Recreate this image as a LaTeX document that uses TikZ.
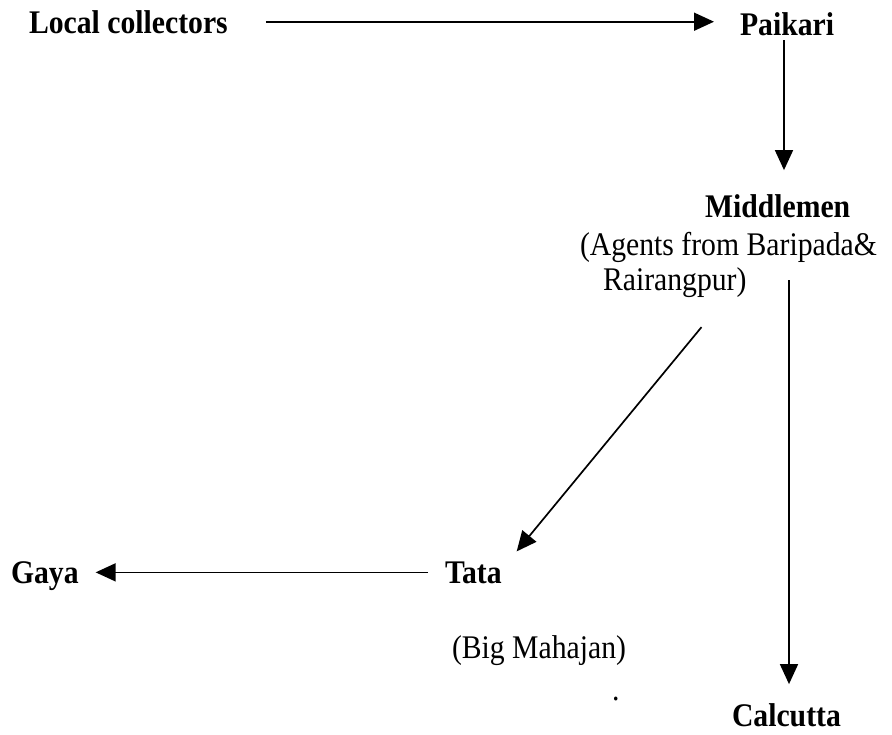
\documentclass[tikz,border=0pt]{standalone}
\usepackage{fontspec}
\setmainfont[FakeStretch=0.9]{Liberation Serif}
\usetikzlibrary{arrows.meta,calc}
\begin{document}
\begin{tikzpicture}[x=1pt,y=-1pt,
  every node/.style={inner sep=0pt,outer sep=0pt,anchor=base west,
                     font=\fontsize{33}{37}\selectfont},
  place/.style={font=\fontsize{33}{37}\selectfont\bfseries},
  flow/.style={line width=1.7pt,-{Triangle[length=20pt,width=18pt]}}]
\useasboundingbox (0,0) rectangle (892,734);

% places of the trade chain
\node[place] (lc)  at (29,33)   {Local collectors};
\node[place] (pk)  at (740,35)  {Paikari};
\node[place] (mm)  at (705,217) {Middlemen};
\node        (ag)  at (580,255) {(Agents from Baripada\&};
\node        (rp)  at (603,290) {Rairangpur)};
\node[place] (ga)  at (11,583)  {Gaya};
\node[place] (ta)  at (445,583) {Tata};
\node        (bm)  at (452,658) {(Big Mahajan)};
\node[place] (ca)  at (732,726) {Calcutta};
\node        (dot) at (612,700) {.};

% columns of the long vertical arrows
\coordinate (pkcol) at ([xshift=44pt]pk.south west);
\coordinate (cacol) at ([xshift=57pt]ca.north west);

% connectors
\draw[flow,shorten <=38pt,shorten >=26pt] (lc.east) -- (lc.east -| pk.west);
\draw[flow,shorten <=5pt,shorten >=24pt] (pkcol) -- (pkcol |- mm.north);
\draw[flow,shorten <=18pt,shorten >=19pt] (ag.south -| cacol) -- (cacol);
\draw[flow] ($(rp.south east)+(-45,30)$) -- ($(ta.north east)+(15,-10)$);
\draw[flow,shorten <=17pt,shorten >=17pt] (ta.west) -- (ta.west -| ga.east);
\end{tikzpicture}
\end{document}
